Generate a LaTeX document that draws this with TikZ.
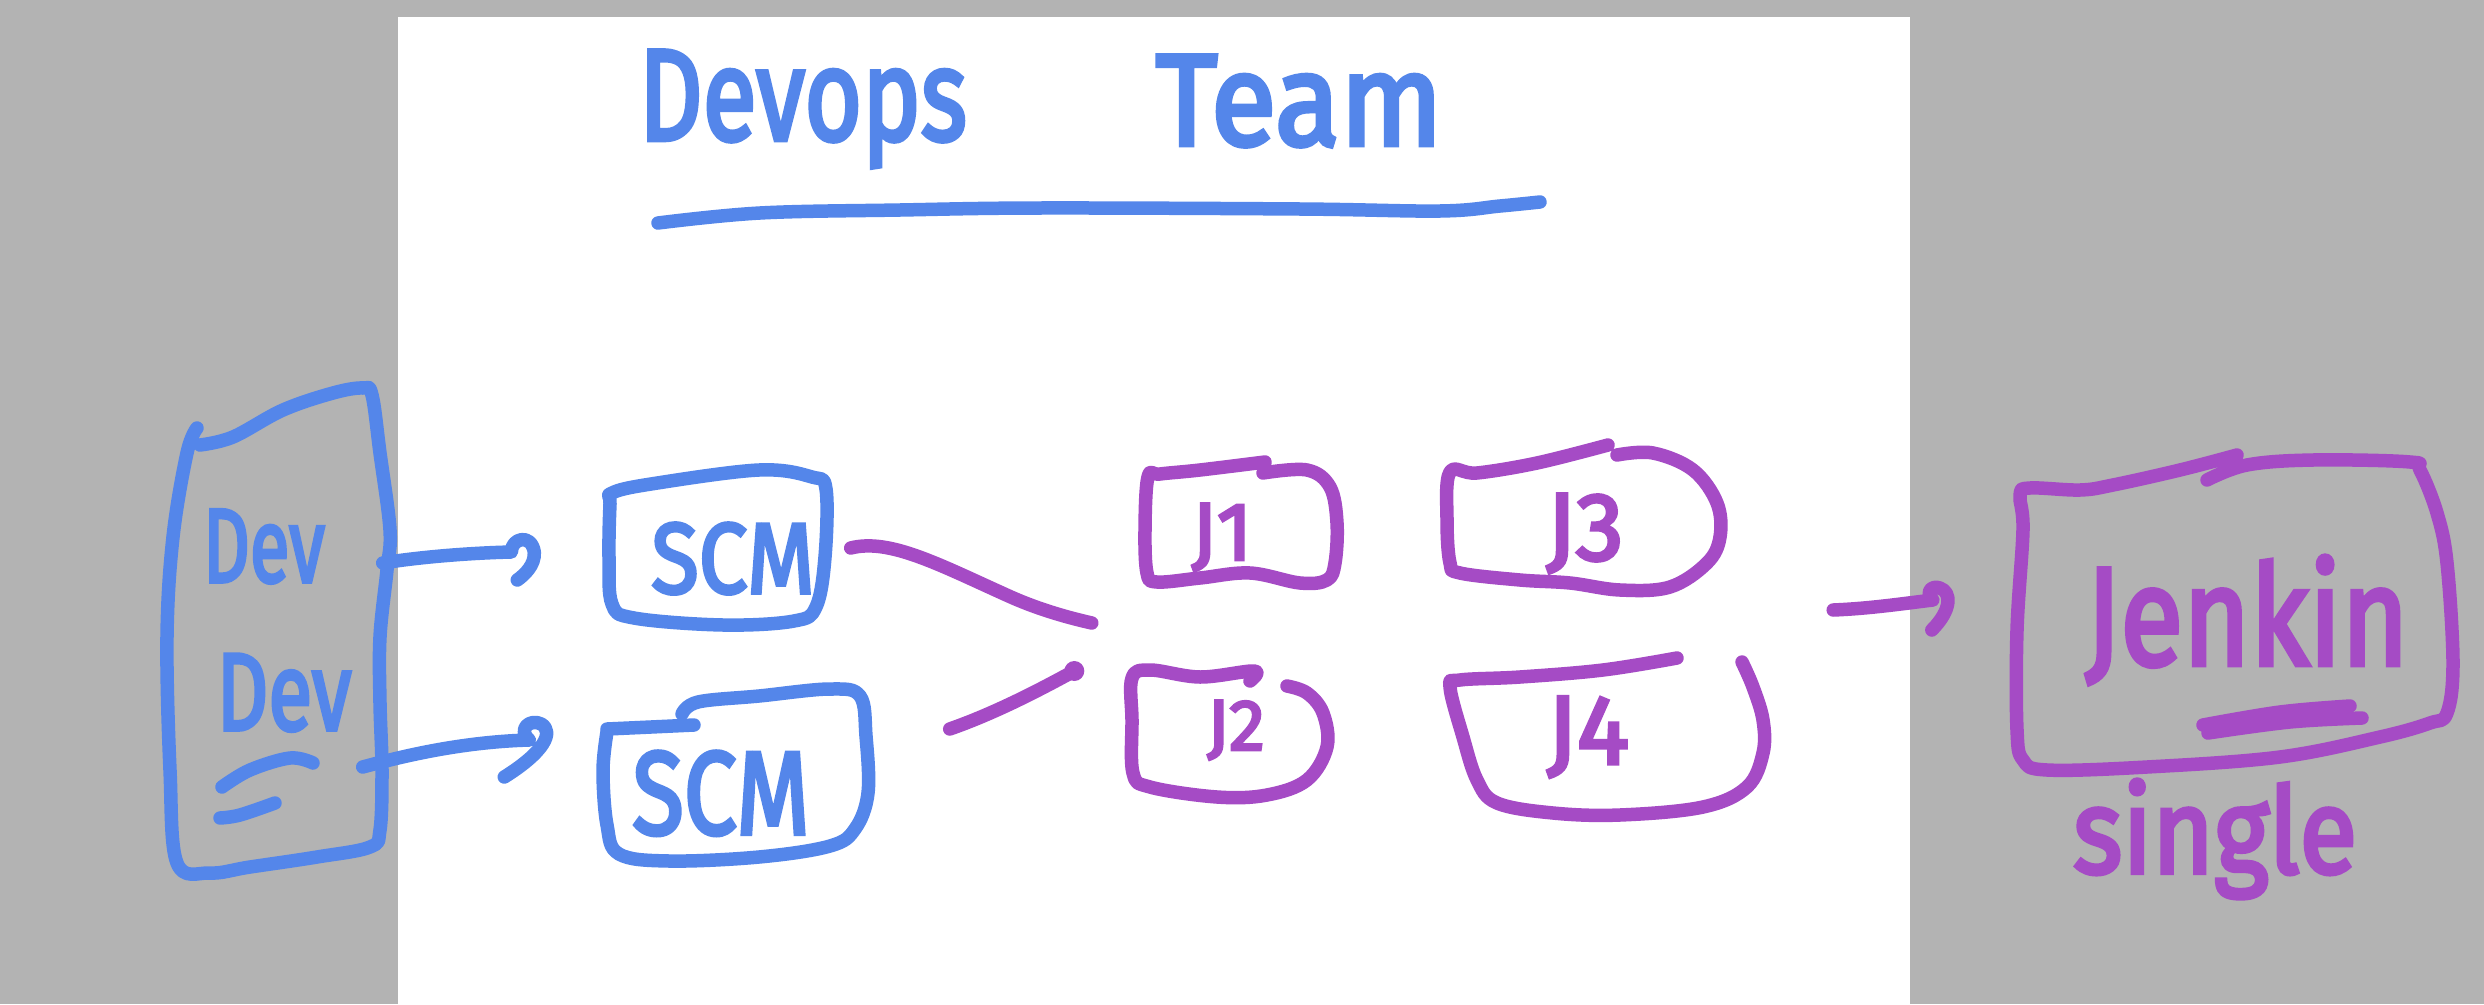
\documentclass[tikz,border=0pt]{standalone}
\usepackage{fontspec}
\setmainfont{Fira Sans}[FakeBold=3.5]
\usetikzlibrary{calc}
\definecolor{bgc}{HTML}{B3B3B3}
\definecolor{bl}{HTML}{5486EA}
\definecolor{pu}{HTML}{A54BC5}
\newcommand\hfs[1]{\fontsize{#1}{#1}\selectfont}
\tikzset{
  sk/.style={line width=13.5pt, line cap=round, line join=round},
  bsk/.style={sk, draw=bl},
  psk/.style={sk, draw=pu},
  boxn/.style 2 args={shape=rectangle, draw=none, inner sep=0pt, minimum width=#1, minimum height=#2},
  lbl/.style={anchor=base, inner sep=0pt},
  btxt/.style={lbl, text=bl},
  ptxt/.style={lbl, text=pu},
}
\begin{document}
\begin{tikzpicture}[x=1pt,y=-1pt]
\useasboundingbox (0,0) rectangle (2484,1004);
\fill[bgc] (0,0) rectangle (2484,1004);
\fill[white] (398,17) rectangle (1910,1004);

% box nodes (extent of each hand-drawn box)
\node[boxn={215pt}{480pt}] (dev) at (277,630) {};
\node[boxn={217pt}{155pt}] (scm1) at (717,548) {};
\node[boxn={265pt}{171pt}] (scm2) at (735,775) {};
\node[boxn={192pt}{121pt}] (j1) at (1241,523) {};
\node[boxn={197pt}{127pt}] (j2) at (1229,734) {};
\node[boxn={273pt}{145pt}] (j3) at (1583,518) {};
\node[boxn={313pt}{157pt}] (j4) at (1607,737) {};
\node[boxn={436pt}{315pt}] (jen) at (2235,613) {};

% title
\node[btxt, font=\hfs{130}] (title1) at (803,140) {\scalebox{0.76}[1]{Devops}};
\node[btxt, font=\hfs{130}] (title2) at (1299,145) {\scalebox{0.92}[1]{Team}};
\draw[bsk] plot[smooth, tension=0.6] coordinates {(658,223) (760,213) (900,210) (1040,208) (1300,209) (1440,211) (1500,206) (1540,202)};

% Dev box
\draw[bsk] plot[smooth, tension=0.6] coordinates {(200,445) (233,437) (283,410) (333,393) (363,388) (372,395) (380,453) (390,530) (387,570) (380,637) (380,703) (382,770) (380,830) (370,847) (317,857) (250,867) (210,873) (177,863) (170,770) (167,637) (173,537) (187,453) (197,428)};
\node[btxt, font=\hfs{105}] (dev1) at (264,582) {\scalebox{0.69}[1]{Dev}};
\node[btxt, font=\hfs{110}] (dev2) at (284,730) {\scalebox{0.73}[1]{Dev}};
\draw[bsk] plot[smooth, tension=0.6] coordinates {(222,787) (250,770) (290,758) (313,763)};
\draw[bsk] plot[smooth, tension=0.6] coordinates {(220,818) (240,815) (275,803)};

% SCM boxes
\draw[bsk] plot[smooth cycle, tension=0.6] coordinates {(612,493) (651,484) (759,470) (812,477) (826,489) (825,557) (816,607) (794,621) (723,625) (634,618) (612,604) (609,557) (610,504)};
\node[btxt, font=\hfs{100}] (scm1t) at (733,593) {\scalebox{0.87}[1]{SCM}};
\draw[bsk] plot[smooth, tension=0.6] coordinates {(607,729) (651,727) (694,725)};
\draw[bsk] plot[smooth, tension=0.6] coordinates {(682,714) (698,702) (759,696) (830,689) (860,696) (866,736) (868,793) (855,829) (830,846) (759,857) (669,861) (619,854) (607,825) (603,771) (607,732)};
\node[btxt, font=\hfs{118}] (scm2t) at (721,834) {\scalebox{0.8}[1]{SCM}};

% J boxes
\draw[psk] plot[smooth, tension=0.6] coordinates {(1265,462) (1200,470) (1160,474) (1148,477) (1145,530) (1147,573) (1157,582) (1200,578) (1250,573) (1300,583) (1327,580) (1335,563) (1337,523) (1330,487) (1307,470) (1263,473)};
\node[ptxt, font=\hfs{82}] (j1t) at (1222,560) {J1};
\draw[psk] plot[smooth, tension=0.6] coordinates {(1250,681) (1254,671) (1200,677) (1150,670) (1132,678) (1132,720) (1133,773) (1150,787) (1217,797) (1267,795) (1307,780) (1327,747) (1323,713) (1307,693) (1287,686)};
\node[ptxt, font=\hfs{72}] (j2t) at (1236,750) {J2};
\draw[psk] plot[smooth, tension=0.6] coordinates {(1608,445) (1537,463) (1477,473) (1450,472) (1447,520) (1450,563) (1460,573) (1520,580) (1570,583) (1620,590) (1670,587) (1707,563) (1720,537) (1717,503) (1693,470) (1653,453) (1617,455)};
\node[ptxt, font=\hfs{96}] (j3t) at (1585,560) {J3};
\draw[psk] plot[smooth, tension=0.6] coordinates {(1677,658) (1603,670) (1520,677) (1460,680) (1450,687) (1463,737) (1477,780) (1497,803) (1553,813) (1620,815) (1703,807) (1747,787) (1763,753) (1763,720) (1753,687) (1742,662)};
\node[ptxt, font=\hfs{98}] (j4t) at (1588,764) {J4};

% Jenkin box
\draw[psk] plot[smooth, tension=0.6] coordinates {(2237,455) (2180,470) (2113,485) (2080,490) (2030,488) (2020,495) (2023,530) (2017,630) (2017,730) (2023,760) (2047,770) (2147,767) (2280,757) (2380,737) (2430,723) (2447,713) (2453,663) (2447,563) (2437,513) (2420,470) (2410,462) (2313,460) (2247,465) (2207,480)};
\node[ptxt, font=\hfs{140}] (jent) at (2247,665) {\scalebox{0.82}[1]{Jenkin}};
\draw[psk] plot[smooth, tension=0.6] coordinates {(2203,725) (2280,712) (2350,706)};
\draw[psk] plot[smooth, tension=0.6] coordinates {(2208,733) (2290,722) (2362,718)};
\node[ptxt, font=\hfs{120}] (single) at (2215,873) {\scalebox{0.88}[1]{single}};

% connectors
\draw[bsk] ($(dev.east)+(-2,-67)$) .. controls ($(dev.east)+(35,-73)$) and ($(scm1.west)+(-139,5)$) .. ($(scm1.west)+(-97,4)$)
  .. controls ($(scm1.west)+(-97,-10)$) and ($(scm1.west)+(-77,-15)$) .. ($(scm1.west)+(-74,4)$)
  .. controls ($(scm1.west)+(-73,17)$) and ($(scm1.west)+(-84,27)$) .. ($(scm1.west)+(-91,32)$);
\draw[bsk] ($(dev.east)+(-22,137)$) .. controls ($(dev.east)+(15,127)$) and ($(scm2.west)+(-143,-33)$) .. ($(scm2.west)+(-73,-35)$)
  .. controls ($(scm2.west)+(-85,-45)$) and ($(scm2.west)+(-73,-57)$) .. ($(scm2.west)+(-61,-51)$)
  .. controls ($(scm2.west)+(-48,-43)$) and ($(scm2.west)+(-58,-23)$) .. ($(scm2.west)+(-98,2)$);
\draw[psk] ($(scm1.east)+(25,0)$) .. controls ($(scm1.east)+(64,-10)$) and ($(scm1.east)+(114,17)$) .. ($(scm1.east)+(183,48)$)
  .. controls ($(scm1.east)+(214,62)$) and ($(j1.west)+(-75,95)$) .. ($(j1.west)+(-53,100)$);
\draw[psk] ($(scm2.east)+(82,-46)$) .. controls ($(scm2.east)+(122,-60)$) and ($(j2.west)+(-100,-39)$) .. ($(j2.west)+(-58,-62)$);
\fill[pu] ($(j2.west)+(-56,-63)$) circle (10pt);
\coordinate (jmid) at ($(j3.east)!0.5!(j4.east)$);
\draw[psk] ($(jmid)+(91.5,-17.5)$) .. controls ($(jmid)+(128,-19)$) and ($(jen.west)+(-117,-9)$) .. ($(jen.west)+(-84,-13)$)
  .. controls ($(jen.west)+(-92,-21)$) and ($(jen.west)+(-85,-28)$) .. ($(jen.west)+(-77,-25)$)
  .. controls ($(jen.west)+(-65,-21)$) and ($(jen.west)+(-65,-3)$) .. ($(jen.west)+(-85,17)$);
\end{tikzpicture}
\end{document}
